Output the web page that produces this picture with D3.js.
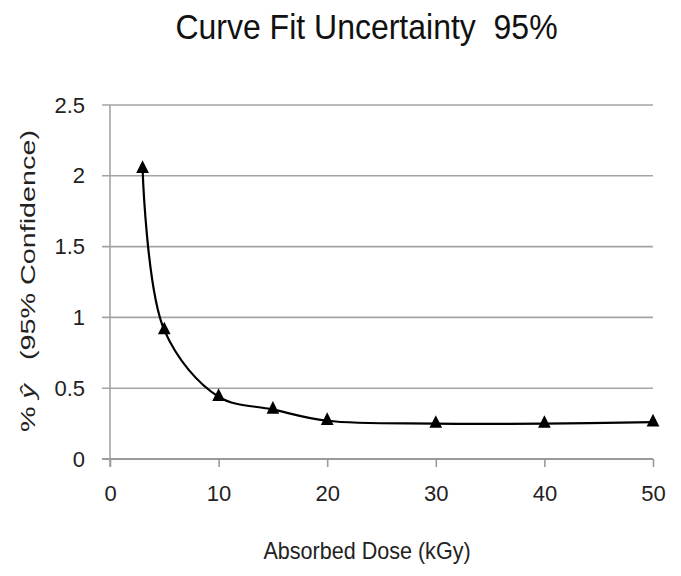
<!DOCTYPE html>
<html>
<head>
<meta charset="utf-8">
<script src="https://cdn.jsdelivr.net/npm/d3@7"></script>
<style>
  html, body { margin: 0; padding: 0; background: #fff; }
  svg { display: block; font-family: "Liberation Sans", Arial, sans-serif; }
</style>
</head>
<body>
<svg id="chart" width="681" height="576"></svg>
<script>
// Absorbed dose (kGy) and the 95% confidence uncertainty of the curve fit (%)
const doses = [3, 5, 10, 15, 20, 30, 40, 50];
const uncertainty = [2.05, 0.91, 0.44, 0.35, 0.27, 0.25, 0.25, 0.26];
const xTicks = [0, 10, 20, 30, 40, 50];
const yTicks = [0, 0.5, 1, 1.5, 2, 2.5];

const svg = d3.select("#chart");
const plotLeft = 110, plotRight = 653, plotTop = 105, plotBottom = 459;

const x = d3.scaleLinear().domain([0, 50]).range([plotLeft, plotRight]);
const y = d3.scaleLinear().domain([0, 2.5]).range([plotBottom, plotTop]);

// Horizontal gridlines (they run a little past the vertical axis, as tick marks)
svg.append("g")
  .selectAll("line")
  .data(yTicks)
  .join("line")
  .attr("x1", plotLeft - 8)
  .attr("x2", plotRight)
  .attr("y1", d => y(d))
  .attr("y2", d => y(d))
  .attr("stroke", d => d === 0 ? "#9a9a9a" : "#a4a4a4")
  .attr("stroke-width", d => d === 0 ? 2 : 1.6);

// Vertical axis line
svg.append("line")
  .attr("x1", plotLeft).attr("x2", plotLeft)
  .attr("y1", plotTop).attr("y2", plotBottom + 8)
  .attr("stroke", "#a4a4a4").attr("stroke-width", 1.6);

// X axis ticks and labels
const xAxis = d3.axisBottom(x).tickValues(xTicks).tickSize(8).tickPadding(18)
  .tickFormat(d3.format("d"));
const gx = svg.append("g").attr("transform", `translate(0,${plotBottom})`).call(xAxis);
gx.select(".domain").remove();
gx.selectAll(".tick line").attr("stroke", "#9a9a9a").attr("stroke-width", 1.6);
gx.selectAll(".tick text")
  .attr("fill", "#222")
  .style("font-size", "22px")
  .style("font-family", "\"Liberation Sans\", Arial, sans-serif");

// Y axis labels
const yAxis = d3.axisLeft(y).tickValues(yTicks).tickSize(0).tickPadding(25)
  .tickFormat(d => String(d));
const gy = svg.append("g").attr("transform", `translate(${plotLeft},0)`).call(yAxis);
gy.select(".domain").remove();
gy.selectAll(".tick text")
  .attr("fill", "#222")
  .style("font-size", "22px")
  .style("font-family", "\"Liberation Sans\", Arial, sans-serif");

// Smoothed fit line
const line = d3.line()
  .x((d, i) => x(doses[i]))
  .y(d => y(d))
  .curve(d3.curveCatmullRom.alpha(0.5));

svg.append("path")
  .datum(uncertainty)
  .attr("d", line)
  .attr("fill", "none")
  .attr("stroke", "#000")
  .attr("stroke-width", 2.2);

// Triangle markers
const tri = d3.symbol().type(d3.symbolTriangle).size(70);
svg.append("g")
  .selectAll("path")
  .data(uncertainty)
  .join("path")
  .attr("d", tri)
  .attr("transform", (d, i) => `translate(${x(doses[i])},${y(d)}) scale(1,1.15)`)
  .attr("fill", "#000");

// Title (slightly tall lettering)
svg.append("text")
  .attr("transform", "translate(366.5,39) scale(1,1.1)")
  .attr("text-anchor", "middle")
  .attr("fill", "#111")
  .style("font-size", "32px")
  .attr("xml:space", "preserve")
  .text("Curve Fit Uncertainty  95%");

// X axis title
svg.append("text")
  .attr("transform", "translate(367,559) scale(0.98,1.12)")
  .attr("text-anchor", "middle")
  .attr("fill", "#222")
  .style("font-size", "22px")
  .text("Absorbed Dose (kGy)");

// Y axis title
const yt = svg.append("text")
  .attr("transform", "translate(35,281) rotate(-90)")
  .attr("text-anchor", "middle")
  .attr("fill", "#222")
  .style("font-size", "21px")
  .attr("textLength", 302)
  .attr("lengthAdjust", "spacingAndGlyphs")
  .attr("xml:space", "preserve");
yt.append("tspan").text("% ");
yt.append("tspan").style("font-style", "italic").text("ŷ");
yt.append("tspan").text("   (95% Confidence)");
</script>
</body>
</html>
